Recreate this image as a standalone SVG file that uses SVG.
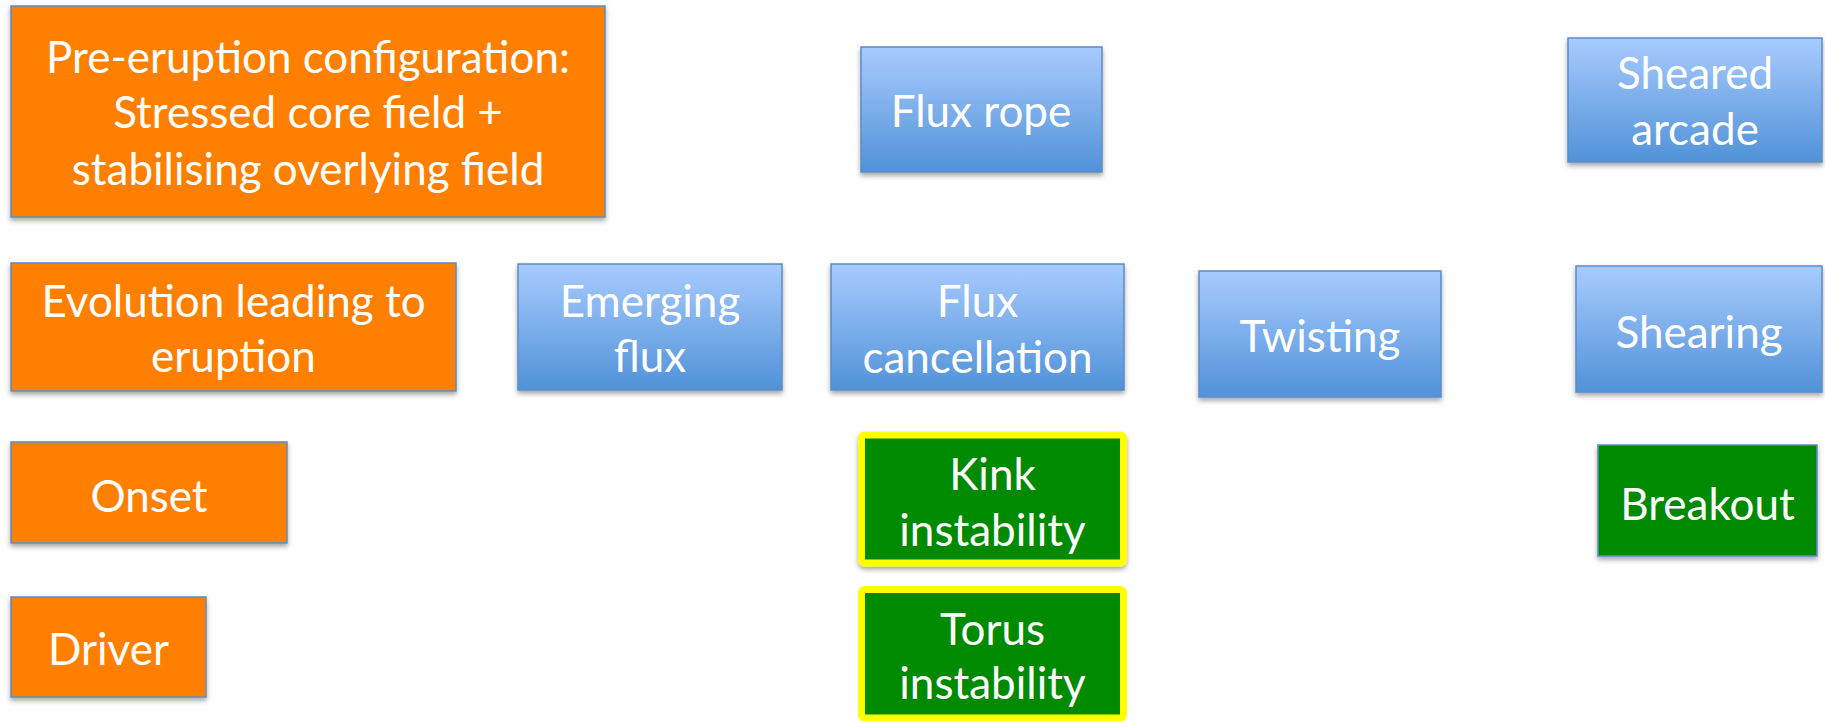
<svg xmlns="http://www.w3.org/2000/svg" width="1825" height="721" viewBox="0 0 1825 721">
<style>
.o{fill:#FF7F00;stroke:#5B8CC8;stroke-width:1.5}
.b{fill:url(#bg);stroke:#5B8CC8;stroke-width:1.5}
.g{fill:#008A00;stroke:#5B8CC8;stroke-width:1.5}
.gy{fill:#008A00;stroke:#FFFF00;stroke-width:7}
text{font-family:Lato,"Open Sans","Liberation Sans",sans-serif;font-size:44px;fill:#FFFFFF;text-anchor:middle}
.s{filter:url(#sh)}
</style>
<defs>
<linearGradient id="bg" x1="0" y1="0" x2="0" y2="1">
<stop offset="0" stop-color="#A8CBFE"/>
<stop offset="1" stop-color="#5192D8"/>
</linearGradient>
<filter id="sh" x="-10%" y="-10%" width="120%" height="130%">
<feDropShadow dx="0" dy="3" stdDeviation="2.5" flood-color="#000" flood-opacity="0.35"/>
</filter>
</defs>
<rect width="1825" height="721" fill="#FFFFFF"/>
<g id="connectors"/>
<g id="pre-eruption">
<rect class="o s" x="11" y="6" width="594" height="211"/>
<text x="308" y="73">Pre-eruption configuration:</text>
<text x="308" y="128">Stressed core field +</text>
<text x="308" y="185">stabilising overlying field</text>
</g>
<g id="flux-rope">
<rect class="b s" x="861" y="47" width="241" height="125"/>
<text x="981" y="127">Flux rope</text>
</g>
<g id="sheared-arcade">
<rect class="b s" x="1568" y="38" width="254" height="124"/>
<text x="1695" y="89">Sheared</text>
<text x="1695" y="145">arcade</text>
</g>
<g id="evolution">
<rect class="o s" x="11" y="263" width="445" height="128"/>
<text x="233.5" y="317">Evolution leading to</text>
<text x="233.5" y="372">eruption</text>
</g>
<g id="emerging-flux">
<rect class="b s" x="518" y="264" width="264" height="126"/>
<text x="650" y="317">Emerging</text>
<text x="650" y="372">flux</text>
</g>
<g id="flux-cancellation">
<rect class="b s" x="831" y="264" width="293" height="126"/>
<text x="977.5" y="317">Flux</text>
<text x="977.5" y="373">cancellation</text>
</g>
<g id="twisting">
<rect class="b s" x="1199" y="271" width="242" height="126"/>
<text x="1320" y="352">Twisting</text>
</g>
<g id="shearing">
<rect class="b s" x="1576" y="266" width="246" height="126"/>
<text x="1699" y="348">Shearing</text>
</g>
<g id="onset">
<rect class="o s" x="11" y="442" width="276" height="101"/>
<text x="149" y="512">Onset</text>
</g>
<g id="driver">
<rect class="o s" x="11" y="597" width="195" height="100"/>
<text x="108.5" y="665">Driver</text>
</g>
<g id="kink">
<rect class="gy s" x="861.5" y="435" width="262" height="128" rx="3"/>
<text x="992.5" y="490">Kink</text>
<text x="992.5" y="546">instability</text>
</g>
<g id="torus">
<rect class="gy" x="861.5" y="589.5" width="262" height="128.5" rx="3"/>
<text x="992.5" y="645">Torus</text>
<text x="992.5" y="699">instability</text>
</g>
<g id="breakout">
<rect class="g s" x="1598" y="445" width="219" height="111"/>
<text x="1707.5" y="520">Breakout</text>
</g>
</svg>
